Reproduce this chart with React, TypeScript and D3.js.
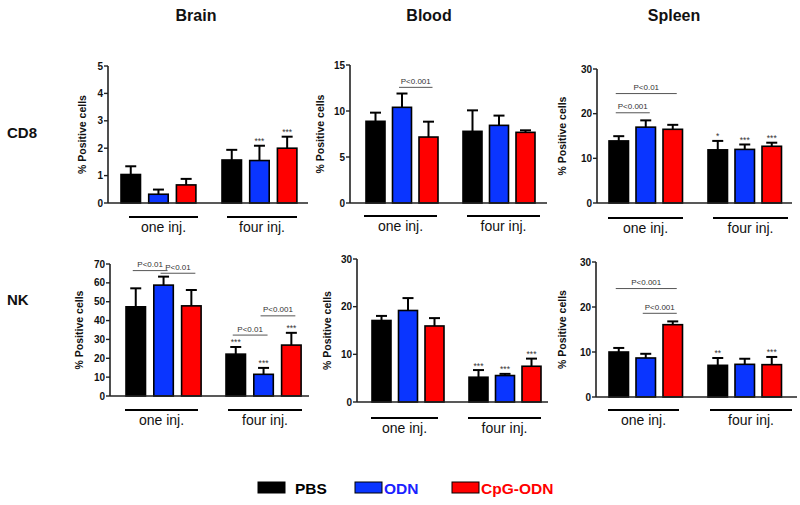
import React from "react";
import * as d3 from "d3";

// ---- data ----
const tissues = ["Brain", "Blood", "Spleen"];
const cellTypes = ["CD8", "NK"];
const groups = ["one inj.", "four inj."];
const series = ["PBS", "ODN", "CpG-ODN"];
const seriesColors = ["#000000", "#0a35ff", "#ff0000"];
const legendTextColors = ["#000000", "#1a22ff", "#ff0000"];

// means [group][series]
const brainCD8Mean = [[1.04, 0.32, 0.66], [1.57, 1.55, 2.0]];
const brainCD8Sem = [[0.3, 0.17, 0.22], [0.37, 0.54, 0.42]];
const bloodCD8Mean = [[8.88, 10.4, 7.17], [7.79, 8.44, 7.68]];
const bloodCD8Sem = [[0.94, 1.5, 1.67], [2.28, 1.06, 0.22]];
const spleenCD8Mean = [[13.9, 16.98, 16.5], [11.9, 12.0, 12.7]];
const spleenCD8Sem = [[1.06, 1.52, 1.0], [2.0, 1.1, 0.8]];
const brainNKMean = [[47.3, 58.8, 47.8], [22.2, 11.5, 27.0]];
const brainNKSem = [[9.8, 4.5, 8.4], [3.8, 3.4, 6.5]];
const bloodNKMean = [[17.1, 19.2, 15.95], [5.2, 5.55, 7.5]];
const bloodNKSem = [[0.96, 2.6, 1.65], [1.5, 0.35, 1.6]];
const spleenNKMean = [[10.0, 8.67, 16.07], [7.04, 7.26, 7.19]];
const spleenNKSem = [[0.9, 0.93, 0.73], [1.63, 1.24, 1.71]];

const brainCD8Stars = [["", "", ""], ["", "***", "***"]];
const bloodCD8Stars = [["", "", ""], ["", "", ""]];
const spleenCD8Stars = [["", "", ""], ["*", "***", "***"]];
const brainNKStars = [["", "", ""], ["***", "***", "***"]];
const bloodNKStars = [["", "", ""], ["***", "***", "***"]];
const spleenNKStars = [["", "", ""], ["**", "", "***"]];

const brainCD8Ticks = [0, 1, 2, 3, 4, 5];
const bloodCD8Ticks = [0, 5, 10, 15];
const spleenCD8Ticks = [0, 10, 20, 30];
const brainNKTicks = [0, 10, 20, 30, 40, 50, 60, 70];
const bloodNKTicks = [0, 10, 20, 30];
const spleenNKTicks = [0, 10, 20, 30];

// p-value brackets: [group, fromSeries, toSeries, yValue, label]
const brainCD8P: [number, number, number, number, string][] = [];
const bloodCD8P: [number, number, number, number, string][] = [[0, 1, 2, 12.57, "P<0.001"]];
const spleenCD8P: [number, number, number, number, string][] = [
  [0, 0, 2, 24.5, "P<0.01"],
  [0, 0, 1, 20.2, "P<0.001"],
];
const brainNKP: [number, number, number, number, string][] = [
  [0, 0, 1, 66.5, "P<0.01"],
  [0, 1, 2, 65.1, "P<0.01"],
  [1, 0, 1, 32.3, "P<0.01"],
  [1, 1, 2, 42.5, "P<0.001"],
];
const bloodNKP: [number, number, number, number, string][] = [];
const spleenNKP: [number, number, number, number, string][] = [
  [0, 0, 2, 24.1, "P<0.001"],
  [0, 1, 2, 18.6, "P<0.001"],
];

const yLabel = "% Positive cells";

// ---- layout (pixels) ----
type Layout = {
  axisX: number; y0: number; yTop: number; right: number;
  oneLeft: number; fourLeft: number; step: number; barW: number; labelX: number;
  ulOne: [number, number]; ulFour: [number, number]; ulY: number;
};
const layouts: Layout[] = [
  { axisX: 108, y0: 203, yTop: 66, right: 308, oneLeft: 121, fourLeft: 222, step: 27.7, barW: 19.5, labelX: 86, ulOne: [129, 198], ulFour: [227, 297], ulY: 217 },
  { axisX: 350, y0: 203, yTop: 65, right: 547, oneLeft: 366, fourLeft: 463, step: 26.5, barW: 19, labelX: 324, ulOne: [364, 437], ulFour: [467, 540], ulY: 216 },
  { axisX: 597, y0: 203, yTop: 69, right: 792, oneLeft: 609, fourLeft: 708, step: 27, barW: 19.5, labelX: 566, ulOne: [608, 683], ulFour: [713, 788], ulY: 218 },
  { axisX: 110, y0: 396, yTop: 264, right: 309, oneLeft: 126, fourLeft: 226, step: 27.8, barW: 19.5, labelX: 83, ulOne: [125, 198], ulFour: [228, 302], ulY: 410 },
  { axisX: 357, y0: 402, yTop: 259, right: 548, oneLeft: 372, fourLeft: 469, step: 26.5, barW: 19, labelX: 331, ulOne: [371, 438], ulFour: [468, 541], ulY: 418 },
  { axisX: 596, y0: 397, yTop: 262, right: 797, oneLeft: 609, fourLeft: 708, step: 27, barW: 19.5, labelX: 566, ulOne: [608, 679], ulFour: [710, 792], ulY: 410 },
];

const panelData = [
  { mean: brainCD8Mean, sem: brainCD8Sem, stars: brainCD8Stars, ticks: brainCD8Ticks, p: brainCD8P },
  { mean: bloodCD8Mean, sem: bloodCD8Sem, stars: bloodCD8Stars, ticks: bloodCD8Ticks, p: bloodCD8P },
  { mean: spleenCD8Mean, sem: spleenCD8Sem, stars: spleenCD8Stars, ticks: spleenCD8Ticks, p: spleenCD8P },
  { mean: brainNKMean, sem: brainNKSem, stars: brainNKStars, ticks: brainNKTicks, p: brainNKP },
  { mean: bloodNKMean, sem: bloodNKSem, stars: bloodNKStars, ticks: bloodNKTicks, p: bloodNKP },
  { mean: spleenNKMean, sem: spleenNKSem, stars: spleenNKStars, ticks: spleenNKTicks, p: spleenNKP },
];

const titleX = [196, 429, 674];
const rowLabelY = [137.5, 305];

const FONT = "Arial, 'Liberation Sans', Helvetica, sans-serif";

function Panel({ d, L }: { d: typeof panelData[0]; L: Layout }) {
  const maxT = d.ticks[d.ticks.length - 1];
  const y = d3.scaleLinear().domain([0, maxT]).range([L.y0, L.yTop]);
  const groupLeft = [L.oneLeft, L.fourLeft];
  const inner = d3
    .scaleBand<string>()
    .domain(series)
    .range([0, 2 * L.step + L.barW])
    .paddingInner((L.step - L.barW) / L.step)
    .paddingOuter(0);
  const bw = inner.bandwidth();
  const ul = [L.ulOne, L.ulFour];
  const cx = (g: number, s: number) => groupLeft[g] + (inner(series[s]) as number) + bw / 2;
  return (
    <g>
      {groups.map((gname, g) =>
        series.map((sname, s) => {
          const x = groupLeft[g] + (inner(sname) as number);
          const m = d.mean[g][s];
          const top = y(m + d.sem[g][s]);
          return (
            <g key={gname + sname}>
              <line x1={x + bw / 2} x2={x + bw / 2} y1={y(m)} y2={top} stroke="#000" strokeWidth={2} />
              <line x1={x + bw / 2 - 5.5} x2={x + bw / 2 + 5.5} y1={top} y2={top} stroke="#000" strokeWidth={2} />
              <rect x={x} y={y(m)} width={bw} height={y(0) - y(m)} fill={seriesColors[s]} stroke="#000" strokeWidth={1.6} />
              {d.stars[g][s] && (
                <text x={x + bw / 2} y={top - 1.5} textAnchor="middle" fontSize={8.5} fill="#333" fontFamily={FONT}>
                  {d.stars[g][s]}
                </text>
              )}
            </g>
          );
        })
      )}
      <line x1={L.axisX} x2={L.axisX} y1={y(maxT)} y2={y(0)} stroke="#222" strokeWidth={1.6} />
      <line x1={L.axisX} x2={L.right} y1={y(0)} y2={y(0)} stroke="#222" strokeWidth={1.6} />
      {d.ticks.map((t) => (
        <g key={t}>
          <line x1={L.axisX - 4} x2={L.axisX} y1={y(t)} y2={y(t)} stroke="#222" strokeWidth={1.4} />
          <text x={L.axisX - 5} y={y(t) + 3.5} textAnchor="end" fontSize={10} fontWeight="bold" fill="#111" fontFamily={FONT}>
            {t}
          </text>
        </g>
      ))}
      <text
        transform={`translate(${L.labelX},${(L.y0 + L.yTop) / 2}) rotate(-90)`}
        textAnchor="middle"
        fontSize={10.5}
        fontWeight="bold"
        fill="#111"
        fontFamily={FONT}
      >
        {yLabel}
      </text>
      {groups.map((gname, g) => (
        <g key={gname}>
          <line x1={ul[g][0]} x2={ul[g][1]} y1={L.ulY} y2={L.ulY} stroke="#000" strokeWidth={2} />
          <text x={(ul[g][0] + ul[g][1]) / 2} y={L.ulY + 15} textAnchor="middle" fontSize={14} fill="#111" fontFamily={FONT}>
            {gname}
          </text>
        </g>
      ))}
      {d.p.map(([g, a, b, v, label], i) => {
        const x1 = cx(g, a) - 3;
        const x2 = cx(g, b) + 4;
        return (
          <g key={i}>
            <line x1={x1} x2={x2} y1={y(v)} y2={y(v)} stroke="#555" strokeWidth={1} />
            <text x={(x1 + x2) / 2} y={y(v) - 3.5} textAnchor="middle" fontSize={8} fill="#333" fontFamily={FONT}>
              {label}
            </text>
          </g>
        );
      })}
    </g>
  );
}

export default function App() {
  const legendBoxX = [258, 355, 452];
  return (
    <svg width={800} height={505} style={{ position: "absolute", left: 0, top: 0, background: "#fff" }}>
      <rect width={800} height={505} fill="#fff" />
      {tissues.map((t, i) => (
        <text key={t} x={titleX[i]} y={21} textAnchor="middle" fontSize={16} fontWeight="bold" fill="#111" fontFamily={FONT}>
          {t}
        </text>
      ))}
      {cellTypes.map((c, i) => (
        <text key={c} x={7} y={rowLabelY[i]} fontSize={15} fontWeight="bold" fill="#111" fontFamily={FONT}>
          {c}
        </text>
      ))}
      {panelData.map((d, i) => (
        <Panel key={i} d={d} L={layouts[i]} />
      ))}
      {series.map((s, i) => (
        <g key={s}>
          <rect x={legendBoxX[i]} y={482} width={27} height={11} fill={seriesColors[i]} stroke="#000" strokeWidth={1} />
          <text x={legendBoxX[i] + 37 - (i > 0 ? 8 : 0)} y={494} fontSize={15.5} fontWeight="bold" fill={legendTextColors[i]} fontFamily={FONT}>
            {s}
          </text>
        </g>
      ))}
    </svg>
  );
}
